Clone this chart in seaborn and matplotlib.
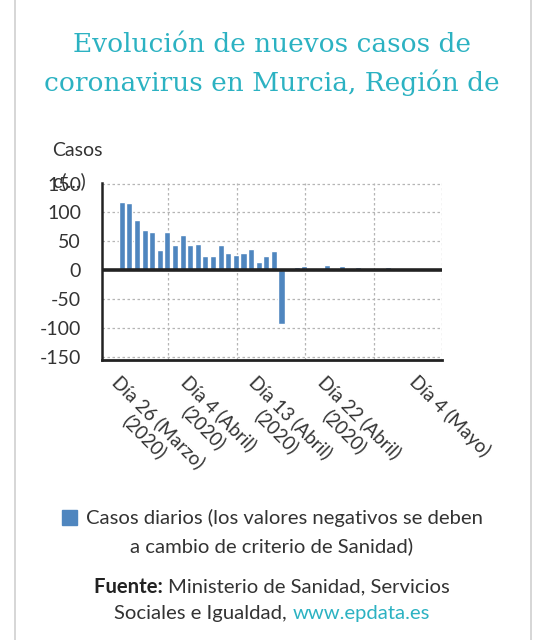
import matplotlib.pyplot as plt
import matplotlib.patches as mpatches
import matplotlib.transforms as mtransforms
import pandas as pd
import seaborn as sns

# daily new cases, starting on 26 March 2020
dias = list(range(39))
casos = [118, 117, 87, 69, 66, 35, 66, 43, 61, 43, 46, 24, 24, 43, 30, 27, 30, 36,
         14, 24, 33, -94, 0, 6, 7, 1, 3, 9, 4, 7, 0, 6, 1, 0, 4, 6, 1, 1, 1]
tick_dias = [0, 9, 18, 27, 39]
tick_labels = ['Día 26 (Marzo)\n(2020)', 'Día 4 (Abril)\n(2020)', 'Día 13 (Abril)\n(2020)',
               'Día 22 (Abril)\n(2020)', 'Día 4 (Mayo)']
y_ticks = [150, 100, 50, 0, -50, -100, -150]

df = pd.DataFrame({'dia': dias, 'casos': casos})

sns.set_style('white')
plt.rcParams['font.family'] = ['Lato', 'DejaVu Sans']
W, H = 549, 640
fs = 14.6

fig = plt.figure(figsize=(5.49, 6.4), dpi=100)
# card border
card = mpatches.FancyBboxPatch((15 / W, -0.05), (531 - 15) / W, 1.1,
                               boxstyle='round,pad=0,rounding_size=0.01',
                               transform=fig.transFigure, fill=False,
                               edgecolor='#cfcfcf', linewidth=1.2)
fig.patches.append(card)

ax = fig.add_axes([102 / W, 1 - 360 / H, (442 - 102) / W, (360 - 183) / H])
bar_color = '#4f86bf'
sns.barplot(data=df, x='dia', y='casos', native_scale=True, color=bar_color,
            width=0.8, saturation=1, ax=ax)

ax.set_xlim(-2.6, 42.1)
ax.set_ylim(-155.7, 151)
ax.set_yticks(y_ticks)
ax.set_yticklabels([str(v) for v in y_ticks], fontsize=14, color='#333333')
ax.set_xticks(tick_dias)
ax.set_xticklabels(tick_labels, rotation=-45, ha='left', va='top',
                   rotation_mode='anchor', multialignment='center',
                   fontsize=13.5, color='#333333')
shift = mtransforms.ScaledTranslation(-8 / 100, 3 / 100, fig.dpi_scale_trans)
for lbl in ax.get_xticklabels():
    lbl.set_transform(lbl.get_transform() + shift)
ax.tick_params(axis='x', length=4, width=1.5, color='#111111', pad=5)
ax.tick_params(axis='y', length=3, width=1.5, color='#111111', pad=12)

ax.grid(False)
for v in y_ticks:
    ax.axhline(v, color='#b5b5b5', linestyle=(0, (2, 2)), linewidth=0.9, zorder=0)
for v in [6.1, 15.1, 24.1, 33.1, 42.05]:
    ax.axvline(v, color='#b5b5b5', linestyle=(0, (2, 2)), linewidth=0.9, zorder=0)
ax.axhline(0, color='#222222', linewidth=2.6, zorder=3)

for side in ['top', 'right']:
    ax.spines[side].set_visible(False)
ax.spines['left'].set_color('#222222')
ax.spines['left'].set_linewidth(1.8)
ax.spines['left'].set_linestyle((0, (1, 1)))
ax.spines['bottom'].set_color('#222222')
ax.spines['bottom'].set_linewidth(2)
ax.set_xlabel('')
ax.set_ylabel('')

# y axis title, truncated as in the original
fig.text(52 / W, 1 - 150 / H, 'Casos', fontsize=14, color='#333333',
         ha='left', va='center')
fig.text(52 / W, 1 - 181 / H, 'c(...)', fontsize=14, color='#333333',
         ha='left', va='center')

# title
fig.text(272 / W, 1 - 64 / H, 'Evolución de nuevos casos de\ncoronavirus en Murcia, Región de',
         fontsize=19, color='#2cb2c2', ha='center', va='center',
         family='DejaVu Serif', linespacing=1.6)

# legend
fig.patches.append(mpatches.Rectangle((62 / W, 1 - 525 / H), 15 / W, 15 / H,
                                      transform=fig.transFigure, color=bar_color))
fig.text(86 / W, 1 - 518 / H, 'Casos diarios (los valores negativos se deben',
         fontsize=fs, color='#333333', ha='left', va='center')
fig.text(272 / W, 1 - 546 / H, 'a cambio de criterio de Sanidad)',
         fontsize=fs, color='#333333', ha='center', va='center')


def text_run(parts, xc, y):
    # place several styled pieces on one line, centred on xc
    fig.canvas.draw()
    r = fig.canvas.get_renderer()
    objs = [fig.text(0, 1 - y / H, s, fontsize=fs, ha='left', va='center', **kw)
            for s, kw in parts]
    widths = [o.get_window_extent(r).width for o in objs]
    x = xc - sum(widths) / 2
    for o, w in zip(objs, widths):
        o.set_x(x / W)
        x += w


# source
text_run([('Fuente: ', dict(color='#222222', fontweight='bold')),
          ('Ministerio de Sanidad, Servicios', dict(color='#333333'))], 272, 587)
text_run([('Sociales e Igualdad, ', dict(color='#333333')),
          ('www.epdata.es', dict(color='#2cb2c2'))], 272, 613)

fig.savefig('out.png', dpi=100)
